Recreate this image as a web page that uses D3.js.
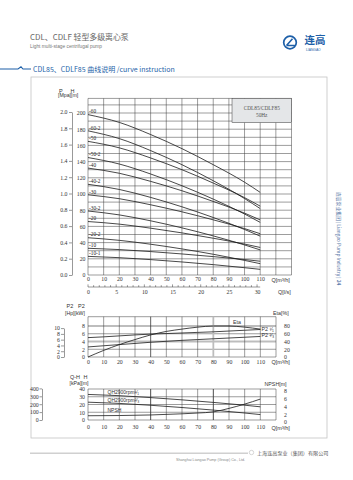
<!DOCTYPE html>
<html><head><meta charset="utf-8">
<script src="https://cdn.jsdelivr.net/npm/d3@7"></script>
<style>body{margin:0;background:#fff}svg{display:block}</style>
</head><body>
<svg id="c" width="353" height="480"></svg>
<script>
// ---------- data ----------
const qMain = [0, 20, 40, 60, 80, 100, 110];
const curveNames = ["-60","-60-2","-50","-50-2","-40","-40-2","-30","-30-2","-20","-20-2","-10","-10-1"];
const h_60   = [198, 188.4, 173.4, 156.0, 136.2, 114.6, 102];
const h_60_2 = [178, 168.4, 153.6, 136.2, 116.4, 94.4, 82];
const h_50   = [165, 157.0, 144.5, 130.0, 113.5, 95.5, 85];
const h_50_2 = [145, 137.0, 124.7, 110.2, 93.7, 75.3, 65];
const h_40   = [132, 125.6, 115.6, 104.0, 90.8, 76.4, 68];
const h_40_2 = [112, 105.6, 95.8, 84.2, 71.0, 56.2, 48];
const h_30   = [99, 94.2, 86.7, 78.0, 68.1, 57.3, 51];
const h_30_2 = [79, 74.2, 66.9, 58.2, 48.3, 37.1, 31];
const h_20   = [66, 62.8, 57.8, 52.0, 45.4, 38.2, 34];
const h_20_2 = [46, 42.8, 38.0, 32.2, 25.6, 18.0, 14];
const h_10   = [33, 31.4, 28.9, 26.0, 22.7, 19.1, 17];
const h_10_1 = [23, 21.4, 19.0, 16.1, 12.8, 9.0, 7];
const mainCurves = [h_60,h_60_2,h_50,h_50_2,h_40,h_40_2,h_30,h_30_2,h_20,h_20_2,h_10,h_10_1];

const qTicksMain = [0,10,20,30,40,50,60,70,80,90,100,110];
const qLsTicks = [0,5,10,15,20,25,30];
const pTicks = [0,0.2,0.4,0.6,0.8,1.0,1.2,1.4,1.6,1.8,2.0];
const hTicksMain = [0,20,40,60,80,100,120,140,160,180,200];

const qLow = [0,10,20,30,40,50,60,70,80,90,100,110];
const eta   = [0, 17, 32, 45, 57, 66, 72, 77, 80, 80, 77, 72];
const p2Full = [5.0, 5.2, 5.45, 5.7, 5.9, 6.05, 6.2, 6.35, 6.5, 6.7, 6.9, 7.1];
const p2Red  = [2.6, 2.9, 3.2, 3.5, 3.8, 4.05, 4.3, 4.5, 4.7, 4.9, 5.1, 5.3];
const hpTicks = [0,2,4,6,8,10];
const kwTicks = [0,2,4,6,8];
const etaTicks = [0,20,40,60,80];

const qQH = [0,20,40,60,80,100,110];
const qhFull = [33, 31.4, 28.9, 26.0, 22.7, 19.1, 17];
const qhRed  = [23, 21.4, 19.0, 16.1, 12.8, 9.0, 7];
const qNpsh = [0,20,40,60,70,80,90,100,110];
const npsh  = [1.1, 1.15, 1.3, 1.6, 1.8, 2.1, 3.0, 4.1, 5.4];
const kpaTicks = [0,100,200,300,400];
const hLowTicks = [0,10,20,30,40];
const npshTicks = [0,2,4,6,8];

// ---------- setup ----------
const SERIF = "'Liberation Serif','DejaVu Serif',serif";
const SANS = "'Liberation Sans',Arial,sans-serif";
const CJK = "'Noto Sans CJK SC',sans-serif";
const BLUE = "#1d5fa8";
const svg = d3.select("#c");

function txt(x,y,s,opt={}){
  const t = svg.append("text").attr("x",x).attr("y",y)
    .attr("font-size",opt.size||5.5).attr("font-family",opt.font||SANS)
    .attr("fill",opt.fill||"#333").attr("text-anchor",opt.anchor||"start")
    .text(s);
  if(opt.weight) t.attr("font-weight",opt.weight);
  return t;
}

// ---------- header ----------
txt(30,39.5,"CDL、CDLF 轻型多级离心泵",{size:7.9,font:CJK,fill:"#666"});
txt(30,47.5,"Light multi-stage centrifugal pump",{size:4.8,fill:"#777"});
svg.append("circle").attr("cx",290).attr("cy",42.5).attr("r",6.3)
  .attr("fill","none").attr("stroke",BLUE).attr("stroke-width",1.7);
svg.append("path").attr("d","M286.5,45.5 L292.5,38.8 M286.5,45.5 L295,45.5")
  .attr("fill","none").attr("stroke",BLUE).attr("stroke-width",1.6);
txt(304.5,44.3,"连高",{size:10.5,font:CJK,fill:BLUE,weight:"bold"});
txt(306,50.6,"LIANGAO",{size:3.3,fill:BLUE});
svg.append("path").attr("d","M0,69 L18,69 L21,66.8 L23,69 L31,69")
  .attr("fill","none").attr("stroke",BLUE).attr("stroke-width",1.1);
txt(33,71.6,"CDL85、CDLF85 曲线说明 /curve instruction",{size:7,font:CJK,fill:BLUE});

// frame
svg.append("rect").attr("x",31).attr("y",77).attr("width",296).attr("height",361)
  .attr("fill","none").attr("stroke","#c4c4c4").attr("stroke-width",0.8);

// ---------- main chart ----------
const xM = d3.scaleLinear().domain([0,130]).range([88,291.5]);
const yH = d3.scaleLinear().domain([0,200]).range([275,113]);
const yP = d3.scaleLinear().domain([0,2]).range([275,112]);
const Htop = 218;
const gm = svg.append("g");
const gridStroke = "#3a3a3a";
gm.selectAll("line.hg").data(d3.range(0,211,10)).join("line")
  .attr("x1",xM(0)).attr("x2",xM(130)).attr("y1",d=>yH(d)).attr("y2",d=>yH(d))
  .attr("stroke",d=>d===10?"#c8c8c8":gridStroke).attr("stroke-width",d=>d===10?1.8:0.5);
gm.selectAll("line.vg").data(d3.range(0,131,10)).join("line")
  .attr("x1",d=>xM(d)).attr("x2",d=>xM(d)).attr("y1",yH(0)).attr("y2",yH(Htop))
  .attr("stroke",gridStroke).attr("stroke-width",0.5);
gm.append("line").attr("x1",xM(0)).attr("x2",xM(130)).attr("y1",yH(Htop)).attr("y2",yH(Htop))
  .attr("stroke",gridStroke).attr("stroke-width",0.5);
// legend box
gm.append("rect").attr("x",xM(92)).attr("y",yH(Htop)).attr("width",xM(130)-xM(92))
  .attr("height",yH(188)-yH(Htop)).attr("fill","#e4e6e8").attr("stroke",gridStroke).attr("stroke-width",0.5);
txt(xM(111),110,"CDL85/CDLF85",{size:5.3,font:SERIF,fill:"#555",anchor:"middle"});
txt(xM(111),117,"50Hz",{size:5.3,font:SERIF,fill:"#555",anchor:"middle"});

const lineM = d3.line().x((d,i)=>xM(qMain[i])).y(d=>yH(d)).curve(d3.curveMonotoneX);
gm.selectAll("path.cv").data(mainCurves).join("path")
  .attr("d",lineM).attr("fill","none").attr("stroke","#1a1a1a").attr("stroke-width",0.8);
gm.selectAll("text.cl").data(mainCurves).join("text")
  .attr("x",xM(0)+1).attr("y",d=>yH(d[0])-1.3)
  .attr("font-size",5.3).attr("font-family",SERIF).attr("fill","#222")
  .text((d,i)=>curveNames[i]);

// axes main
const axP = d3.axisLeft(yP).tickValues(pTicks).tickFormat(d3.format(".1f")).tickSize(3).tickSizeOuter(0).tickPadding(1.5);
svg.append("g").attr("transform","translate(72,0)").call(axP);
const axH = d3.axisLeft(yH).tickValues(hTicksMain).tickSize(0).tickPadding(2.5);
svg.append("g").attr("transform",`translate(${xM(0)},0)`).call(axH).select(".domain").remove();
const axQ = d3.axisBottom(xM).tickValues(qTicksMain).tickSize(0).tickPadding(2.2);
svg.append("g").attr("transform",`translate(0,${yH(0)})`).call(axQ).select(".domain").remove();
txt(59,92.8,"P");txt(70.5,92.8,"H");txt(58,97.3,"[Mpa][m]",{size:5.2});
txt(271.5,281.5,"Q[m³/h]",{size:5.5});

// Q l/s axis
const xLs = d3.scaleLinear().domain([0,130/3.6]).range([88,291.5]);
const yLs = 287;
svg.append("line").attr("x1",xLs(0)).attr("x2",xM(110)).attr("y1",yLs).attr("y2",yLs)
  .attr("stroke","#333").attr("stroke-width",0.5);
svg.selectAll("line.lst").data(d3.range(0,31,1)).join("line")
  .attr("x1",d=>xLs(d)).attr("x2",d=>xLs(d)).attr("y1",yLs).attr("y2",d=>d%5===0?yLs-2.6:yLs-1.8)
  .attr("stroke","#333").attr("stroke-width",0.5);
const axLs = d3.axisBottom(xLs).tickValues(qLsTicks).tickSize(0).tickPadding(3);
svg.append("g").attr("transform",`translate(0,${yLs})`).call(axLs).select(".domain").remove();
txt(278,294.3,"Q[l/s]",{size:5.5});

// ---------- P2 chart ----------
const xL = d3.scaleLinear().domain([0,120]).range([88,276]);
const yE = d3.scaleLinear().domain([0,80]).range([357,326]);
const yKW = d3.scaleLinear().domain([0,8]).range([357,326]);
const yHP = d3.scaleLinear().domain([0,10]).range([357,yKW(7.457)]);
const etaTop = 104;
const g2 = svg.append("g");
g2.selectAll("line").data([0,20,40,60,80,etaTop]).join("line")
  .attr("x1",xL(0)).attr("x2",xL(120)).attr("y1",d=>yE(d)).attr("y2",d=>yE(d))
  .attr("stroke",d=>(d===40||d===80)?"#bdbdbd":gridStroke).attr("stroke-width",d=>(d===40||d===80)?1.8:0.5);
g2.selectAll("line.v").data(d3.range(0,121,10)).join("line")
  .attr("x1",d=>xL(d)).attr("x2",d=>xL(d)).attr("y1",yE(0)).attr("y2",yE(etaTop))
  .attr("stroke",d=>d===80?"#bdbdbd":gridStroke).attr("stroke-width",d=>d===80?1.8:(d===40?0.8:0.5));
const lineEta = d3.line().x((d,i)=>xL(qLow[i])).y(d=>yE(d)).curve(d3.curveMonotoneX);
const lineKW = d3.line().x((d,i)=>xL(qLow[i])).y(d=>yKW(d)).curve(d3.curveMonotoneX);
g2.append("path").attr("d",lineEta(eta)).attr("fill","none").attr("stroke","#1a1a1a").attr("stroke-width",0.8);
g2.append("path").attr("d",lineKW(p2Full)).attr("fill","none").attr("stroke","#1a1a1a").attr("stroke-width",0.8);
g2.append("path").attr("d",lineKW(p2Red)).attr("fill","none").attr("stroke","#1a1a1a").attr("stroke-width",0.8);
txt(233,324,"Eta",{size:5.3});
txt(261.5,331,"P2 ¹⁄₁",{size:5.3});
txt(261.5,337.3,"P2 ²⁄₃",{size:5.3});
const axHP = d3.axisLeft(yHP).tickValues(hpTicks).tickSize(3).tickSizeOuter(0).tickPadding(1);
svg.append("g").attr("transform","translate(64,0)").call(axHP);
const axKW = d3.axisLeft(yKW).tickValues(kwTicks).tickSize(0).tickPadding(3);
svg.append("g").attr("transform",`translate(${xL(0)},0)`).call(axKW).select(".domain").remove();
const axEta = d3.axisRight(yE).tickValues(etaTicks).tickSize(0).tickPadding(8);
svg.append("g").attr("transform",`translate(${xL(120)},0)`).call(axEta).select(".domain").remove();
const axQ2 = d3.axisBottom(xL).tickValues(qTicksMain).tickSize(0).tickPadding(2.5);
svg.append("g").attr("transform",`translate(0,${yE(0)})`).call(axQ2).select(".domain").remove();
txt(66.5,308.3,"P2");txt(78,308.3,"P2");txt(65,314.6,"[Hp][kW]",{size:5.2});
txt(273,315,"Eta[%]",{size:5.3});
txt(271.5,364,"Q[m³/h]",{size:5.5});

// ---------- QH / NPSH chart ----------
const yQ = d3.scaleLinear().domain([0,40]).range([420,389]);
const yN = d3.scaleLinear().domain([0,8]).range([420,389]);
const yK = d3.scaleLinear().domain([0,400]).range([420,420-400/9.81*0.775]);
const g3 = svg.append("g");
g3.selectAll("line").data(hLowTicks).join("line")
  .attr("x1",xL(0)).attr("x2",xL(120)).attr("y1",d=>yQ(d)).attr("y2",d=>yQ(d))
  .attr("stroke",gridStroke).attr("stroke-width",0.5);
g3.selectAll("line.v").data(d3.range(0,121,10)).join("line")
  .attr("x1",d=>xL(d)).attr("x2",d=>xL(d)).attr("y1",yQ(0)).attr("y2",yQ(40))
  .attr("stroke",gridStroke).attr("stroke-width",d=>(d===40||d===80)?0.9:0.5);
const lineQH = d3.line().x((d,i)=>xL(qQH[i])).y(d=>yQ(d)).curve(d3.curveMonotoneX);
const lineNP = d3.line().x((d,i)=>xL(qNpsh[i])).y(d=>yN(d)).curve(d3.curveMonotoneX);
g3.append("path").attr("d",lineQH(qhFull)).attr("fill","none").attr("stroke","#1a1a1a").attr("stroke-width",0.8);
g3.append("path").attr("d",lineQH(qhRed)).attr("fill","none").attr("stroke","#1a1a1a").attr("stroke-width",0.8);
g3.append("path").attr("d",lineNP(npsh)).attr("fill","none").attr("stroke","#1a1a1a").attr("stroke-width",0.8);
txt(107.5,394.3,"QH2900rpm¹⁄₁",{size:5});
txt(107.5,401.7,"QH2900rpm²⁄₃",{size:5});
txt(107.5,411.7,"NPSH",{size:5});
const axK = d3.axisLeft(yK).tickValues(kpaTicks).tickSize(2.5).tickSizeOuter(0).tickPadding(0.8);
svg.append("g").attr("transform","translate(42,0)").call(axK);
const axHL = d3.axisLeft(yQ).tickValues(hLowTicks).tickSize(0).tickPadding(3);
svg.append("g").attr("transform",`translate(${xL(0)},0)`).call(axHL).select(".domain").remove();
const axN = d3.axisRight(yN).tickValues(npshTicks).tickSize(0).tickPadding(8);
svg.append("g").attr("transform",`translate(${xL(120)},2)`).call(axN).select(".domain").remove();
const axQ3 = d3.axisBottom(xL).tickValues(qTicksMain).tickSize(0).tickPadding(5);
svg.append("g").attr("transform",`translate(0,${yQ(0)})`).call(axQ3).select(".domain").remove();
txt(70,379.3,"Q-H");txt(83.5,379.3,"H");txt(69.5,384.7,"[kPa][m]",{size:5.2});
txt(264.5,385.6,"NPSH[m]",{size:5.3});
txt(271.5,429.5,"Q[m³/h]",{size:5.5});

// style axes text
svg.selectAll(".tick text").attr("font-family",SERIF).attr("font-size",5.8).attr("fill","#333");
svg.selectAll(".tick line").attr("stroke","#333").attr("stroke-width",0.5);
svg.selectAll(".domain").attr("stroke","#333").attr("stroke-width",0.5);

// ---------- side & footer ----------
svg.append("text").attr("transform","translate(337,192) rotate(90)")
  .attr("font-size",4.8).attr("font-family",CJK).attr("fill","#5a78a8")
  .text("连高泵业集团 | Liangao Pump Industry | ").append("tspan").attr("font-weight","bold").text("24");
svg.append("line").attr("x1",30).attr("x2",248).attr("y1",453.2).attr("y2",453.2)
  .attr("stroke","#d0d0d0").attr("stroke-width",1.4);
svg.append("circle").attr("cx",251.5).attr("cy",452.5).attr("r",2.2)
  .attr("fill","none").attr("stroke","#bbb").attr("stroke-width",0.6);
txt(257,455,"上海连高泵业（集团）有限公司",{size:5.1,font:CJK,fill:"#555"});
txt(176,460.5,"Shanghai Liangao Pump (Group) Co., Ltd.",{size:3.7,fill:"#888"});
</script>
</body></html>
